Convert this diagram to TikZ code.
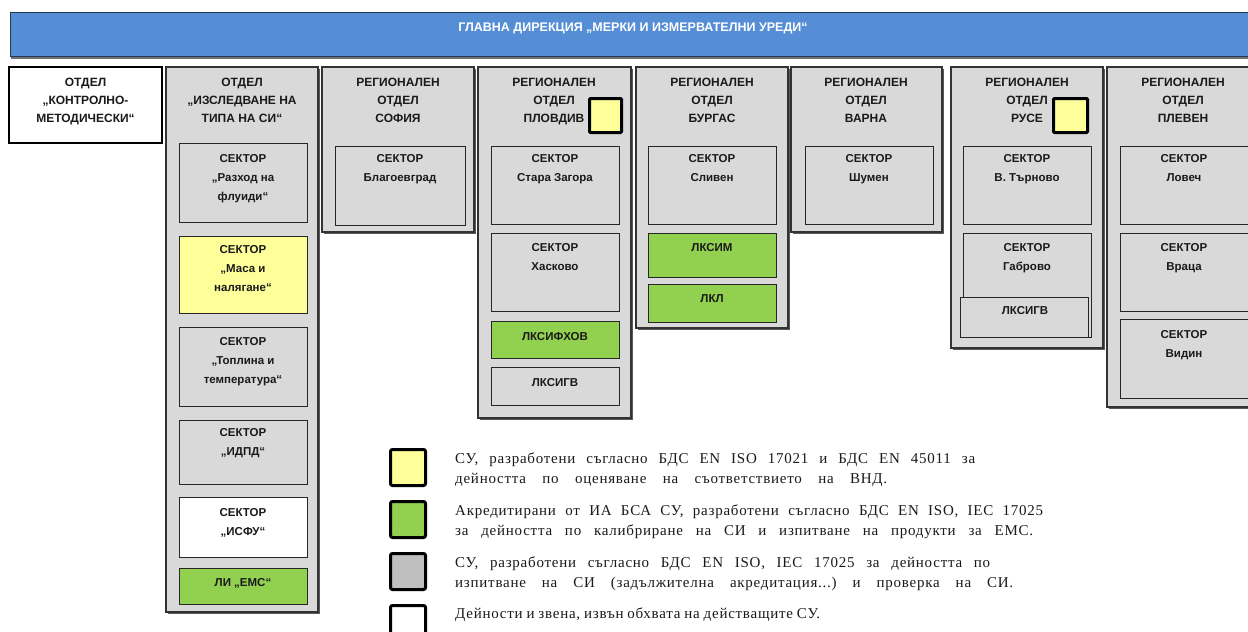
\documentclass[tikz,border=0pt]{standalone}
\usepackage{fontspec}
\setmainfont{Liberation Serif}
\setsansfont{Liberation Sans}
\usetikzlibrary{shadows}
\definecolor{hdrblue}{HTML}{558ED5}
\definecolor{boxgray}{HTML}{D9D9D9}
\definecolor{legray}{HTML}{BFBFBF}
\definecolor{yel}{HTML}{FFFF99}
\definecolor{grn}{HTML}{92D050}
\definecolor{ink}{HTML}{1A1A1A}
\newcommand\MkBox[6]{\node[#1, anchor=north west, minimum width={#5-#3}, minimum height={#6-#4}] (#2) at (#3,#4) {};}
\newcommand\MkTxt[5]{\node[#1, anchor=north] (#2) at (#3,#4) {#5};}
\newcommand\LegLine[5]{\node[legtxt] (#1) at (#2,#3) {\makebox[#4pt][s]{#5}};}
\begin{document}
\begin{tikzpicture}[x=1pt,y=-1pt,
  colbox/.style={draw=black!80, line width=1.2pt, fill=boxgray, inner sep=0pt, outer sep=0pt,
    drop shadow={shadow xshift=1.6pt, shadow yshift=-1.6pt, fill=black!65, opacity=1}},
  secbox/.style={draw=black!85, line width=1pt, fill=boxgray, inner sep=0pt, outer sep=0pt,
    drop shadow={shadow xshift=0.8pt, shadow yshift=-0.8pt, fill=black!60, opacity=1}},
  whitebox/.style={draw=black, line width=1.4pt, fill=white, inner sep=0pt, outer sep=0pt},
  markbox/.style={draw=black, line width=3pt, fill=yel, inner sep=0pt, rounded corners=1pt},
  legsq/.style={draw=black, line width=3pt, inner sep=0pt, rounded corners=2pt},
  ttl/.style={font=\sffamily\bfseries\fontsize{12}{18}\selectfont, text=ink, align=center, inner sep=0pt},
  stxt/.style={font=\sffamily\bfseries\fontsize{11.5}{19}\selectfont, text=ink, align=center, inner sep=0pt},
  legtxt/.style={font=\fontsize{15}{20}\selectfont\addfontfeature{LetterSpace=5}\frenchspacing, text=ink, inner sep=0pt, anchor=base west},
]
\useasboundingbox (0,0) rectangle (1248,632);
\fill[white] (0,0) rectangle (1248,632);

% header
\node[draw=black!60!hdrblue, line width=1pt, fill=hdrblue, anchor=north west, minimum width=1260, minimum height=44, inner sep=0pt,
  drop shadow={shadow xshift=0pt, shadow yshift=-2pt, fill=black!55, opacity=1}] (hdr) at (10,12) {};
\node[font=\sffamily\bfseries\fontsize{12.5}{14}\selectfont, text=white, inner sep=0pt] (hdrt) at (633,28) {ГЛАВНА ДИРЕКЦИЯ „МЕРКИ И ИЗМЕРВАТЕЛНИ УРЕДИ“};

% column 0
\MkBox{whitebox}{c0}{9}{67}{162}{143}
\MkTxt{ttl}{c0t}{85.5}{77.5}{ОТДЕЛ\\„КОНТРОЛНО-\\МЕТОДИЧЕСКИ“}

% column 1
\MkBox{colbox}{c1}{166}{67}{318}{612}
\MkTxt{ttl}{c1t}{242}{77.5}{ОТДЕЛ\\„ИЗСЛЕДВАНЕ НА\\ТИПА НА СИ“}
\MkBox{secbox}{c1a}{179}{143}{307}{222}
\MkTxt{stxt}{c1at}{243}{154.5}{СЕКТОР\\„Разход на\\флуиди“}
\MkBox{secbox,fill=yel}{c1b}{179}{236}{307}{313}
\MkTxt{stxt}{c1bt}{243}{245.5}{СЕКТОР\\„Маса и\\налягане“}
\MkBox{secbox}{c1c}{179}{327}{307}{406}
\MkTxt{stxt}{c1ct}{243}{337.5}{СЕКТОР\\„Топлина и\\температура“}
\MkBox{secbox}{c1d}{179}{420}{307}{484}
\MkTxt{stxt}{c1dt}{243}{428.5}{СЕКТОР\\„ИДПД“}
\MkBox{secbox,fill=white}{c1e}{179}{497}{307}{557}
\MkTxt{stxt}{c1et}{243}{508.5}{СЕКТОР\\„ИСФУ“}
\MkBox{secbox,fill=grn}{c1f}{179}{568}{307}{604}
\MkTxt{stxt}{c1ft}{243}{578.5}{ЛИ „ЕМС“}

% column 2 Sofia
\MkBox{colbox}{c2}{322}{67}{474}{232}
\MkTxt{ttl}{c2t}{398}{77.5}{РЕГИОНАЛЕН\\ОТДЕЛ\\СОФИЯ}
\MkBox{secbox}{c2a}{335}{146}{465}{225}
\MkTxt{stxt}{c2at}{400}{154.5}{СЕКТОР\\Благоевград}

% column 3 Plovdiv
\MkBox{colbox}{c3}{478}{67}{631}{418}
\MkTxt{ttl}{c3t}{554}{77.5}{РЕГИОНАЛЕН\\ОТДЕЛ\\ПЛОВДИВ}
\MkBox{markbox}{c3m}{588}{97}{620}{131}
\MkBox{secbox}{c3a}{491}{146}{619}{224}
\MkTxt{stxt}{c3at}{555}{154.5}{СЕКТОР\\Стара Загора}
\MkBox{secbox}{c3b}{491}{233}{619}{311}
\MkTxt{stxt}{c3bt}{555}{243.5}{СЕКТОР\\Хасково}
\MkBox{secbox,fill=grn}{c3c}{491}{321}{619}{358}
\MkTxt{stxt}{c3ct}{555}{332.5}{ЛКСИФХОВ}
\MkBox{secbox}{c3d}{491}{367}{619}{405}
\MkTxt{stxt}{c3dt}{555}{378.5}{ЛКСИГВ}

% column 4 Burgas
\MkBox{colbox}{c4}{636}{67}{788}{328}
\MkTxt{ttl}{c4t}{712}{77.5}{РЕГИОНАЛЕН\\ОТДЕЛ\\БУРГАС}
\MkBox{secbox}{c4a}{648}{146}{776}{224}
\MkTxt{stxt}{c4at}{712}{154.5}{СЕКТОР\\Сливен}
\MkBox{secbox,fill=grn}{c4b}{648}{233}{776}{277}
\MkTxt{stxt}{c4bt}{712}{243.5}{ЛКСИМ}
\MkBox{secbox,fill=grn}{c4c}{648}{284}{776}{322}
\MkTxt{stxt}{c4ct}{712}{294.5}{ЛКЛ}

% column 5 Varna
\MkBox{colbox}{c5}{791}{67}{942}{232}
\MkTxt{ttl}{c5t}{866}{77.5}{РЕГИОНАЛЕН\\ОТДЕЛ\\ВАРНА}
\MkBox{secbox}{c5a}{805}{146}{933}{224}
\MkTxt{stxt}{c5at}{869}{154.5}{СЕКТОР\\Шумен}

% column 6 Ruse
\MkBox{colbox}{c6}{951}{67}{1103}{348}
\MkTxt{ttl}{c6t}{1027}{77.5}{РЕГИОНАЛЕН\\ОТДЕЛ\\РУСЕ}
\MkBox{markbox}{c6m}{1052}{97}{1086}{131}
\MkBox{secbox}{c6a}{963}{146}{1091}{224}
\MkTxt{stxt}{c6at}{1027}{154.5}{СЕКТОР\\В. Търново}
\MkBox{secbox}{c6b}{963}{233}{1091}{337}
\MkTxt{stxt}{c6bt}{1027}{243.5}{СЕКТОР\\Габрово}
\MkBox{secbox}{c6c}{960}{297}{1088}{337}
\MkTxt{stxt}{c6ct}{1025}{306.5}{ЛКСИГВ}

% column 7 Pleven
\MkBox{colbox}{c7}{1107}{67}{1260}{407}
\MkTxt{ttl}{c7t}{1183}{77.5}{РЕГИОНАЛЕН\\ОТДЕЛ\\ПЛЕВЕН}
\MkBox{secbox}{c7a}{1120}{146}{1248}{224}
\MkTxt{stxt}{c7at}{1184}{154.5}{СЕКТОР\\Ловеч}
\MkBox{secbox}{c7b}{1120}{233}{1248}{311}
\MkTxt{stxt}{c7bt}{1184}{243.5}{СЕКТОР\\Враца}
\MkBox{secbox}{c7c}{1120}{319}{1248}{398}
\MkTxt{stxt}{c7ct}{1184}{330.5}{СЕКТОР\\Видин}

% legend
\MkBox{legsq,fill=yel}{l1}{389}{448}{424}{484}
\MkBox{legsq,fill=grn}{l2}{389}{500}{424}{536}
\MkBox{legsq,fill=legray}{l3}{389}{552}{424}{588}
\MkBox{legsq,fill=white}{l4}{389}{604}{424}{640}
\LegLine{l1a}{455}{463}{520}{СУ, разработени съгласно БДС EN ISO 17021 и БДС EN 45011 за}
\LegLine{l1b}{455}{483}{432}{дейността по оценяване на съответствието на ВНД.}
\LegLine{l2a}{455}{515}{588}{Акредитирани от ИА БСА СУ, разработени съгласно БДС EN ISO, IEC 17025}
\LegLine{l2b}{455}{535}{578}{за дейността по калибриране на СИ и изпитване на продукти за ЕМС.}
\LegLine{l3a}{455}{567}{535}{СУ, разработени съгласно БДС EN ISO, IEC 17025 за дейността по}
\LegLine{l3b}{455}{587}{558}{изпитване на СИ (задължителна акредитация...) и проверка на СИ.}
\LegLine{l4a}{455}{618}{365}{Дейности и звена, извън обхвата на действащите СУ.}
\end{tikzpicture}
\end{document}
